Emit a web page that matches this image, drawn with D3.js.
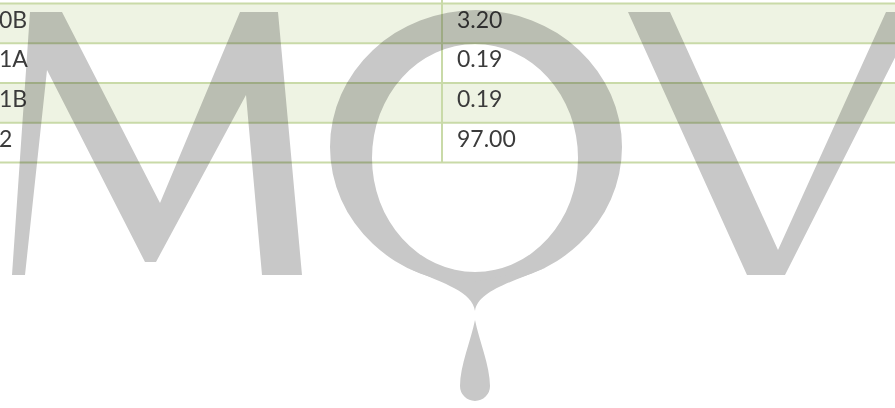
<!DOCTYPE html>
<html>
<head>
<meta charset="utf-8">
<script src="https://cdn.jsdelivr.net/npm/d3@7"></script>
<style>
    body { margin: 0; background: #fff; }
    svg { display: block; }
    .cellText { font-family: Lato, "Open Sans", sans-serif; font-size: 23px; fill: #3b3b3b; }
    .watermark { mix-blend-mode: multiply; }
</style>
</head>
<body>
<div id="table"></div>
<script>
// table rows (the top of the table is cut off in the picture)
var rowLabels = ["0B", "1A", "1B", "2"];
var rowValues = [3.20, 0.19, 0.19, 97.00];

var svgWidth = 895;
var svgHeight = 408;
var divX = 442;

var svg = d3.select("#table")
    .append("svg")
    .attr("width", svgWidth)
    .attr("height", svgHeight);

var rows = rowLabels.map(function (d, i) {
    return { label: d, value: rowValues[i], i: i };
});

var yBand = d3.scaleBand()
    .domain(rowLabels)
    .range([3.5, 162.5])
    .padding(0);

var fmt = d3.format(".2f");

// striped backgrounds
svg.append("g")
    .selectAll("rect")
    .data(rows)
    .enter()
    .append("rect")
    .attr("x", 0)
    .attr("y", d => yBand(d.label))
    .attr("width", svgWidth)
    .attr("height", yBand.bandwidth())
    .attr("fill", d => d.i % 2 === 0 ? "#eef3e3" : "#ffffff");

// row rules
var edges = rowLabels.map(d => yBand(d)).concat([yBand.range()[1]]);
svg.append("g")
    .selectAll("line")
    .data(edges)
    .enter()
    .append("line")
    .attr("x1", 0)
    .attr("x2", svgWidth)
    .attr("y1", d => d)
    .attr("y2", d => d)
    .attr("stroke", "#c9daa8")
    .attr("stroke-width", 2);

// column divider
svg.append("line")
    .attr("x1", divX).attr("x2", divX)
    .attr("y1", 0).attr("y2", yBand.range()[1])
    .attr("stroke", "#c9daa8")
    .attr("stroke-width", 2);

// cell texts
var textGroup = svg.append("g");
textGroup.selectAll("text.lbl")
    .data(rows)
    .enter()
    .append("text")
    .attr("class", "cellText lbl")
    .attr("x", -1)
    .attr("y", d => yBand(d.label) + 24)
    .text(d => d.label);

textGroup.selectAll("text.val")
    .data(rows)
    .enter()
    .append("text")
    .attr("class", "cellText val")
    .attr("x", divX + 15)
    .attr("y", d => yBand(d.label) + 24)
    .text(d => fmt(d.value));

// "MOV" watermark on top (multiplied over the table)
var wm = svg.append("g")
    .attr("class", "watermark")
    .attr("fill", "#c8c8c8");

// M
wm.append("path")
    .attr("d", "M30,12 L62,12 L160,203 L240,12 L278,12 L302,275 L262,275 L246,95 L156,262 L145,262 L47,70 L25,275 L12,275 Z");

// O ring (thicker at the sides)
wm.append("path")
    .attr("fill-rule", "evenodd")
    .attr("d", "M330,147 A146,137 0 1 0 622,147 A146,137 0 1 0 330,147 Z " +
        "M372,158 A103,114 0 1 0 578,158 A103,114 0 1 0 372,158 Z");

// O spur and drop
wm.append("path")
    .attr("d", "M410,269 C446,284 472,292 475,311 C478,292 506,284 545,268 L475,282 Z");
wm.append("path")
    .attr("d", "M475,320 C471,340 460,366 460,386 A15,15 0 0 0 490,386 C490,366 479,340 475,320 Z");

// V
wm.append("path")
    .attr("d", "M628,12 L670,12 L778,250 L886,12 L918,12 L785,275 L747,275 Z");
</script>
</body>
</html>
